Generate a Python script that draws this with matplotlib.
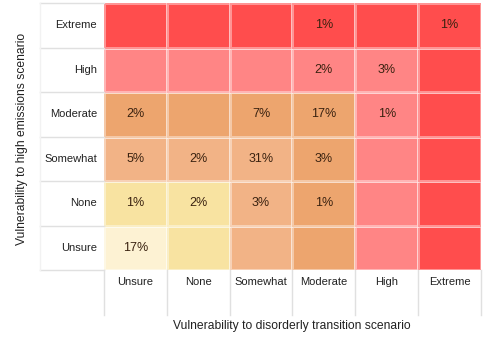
import numpy as np
import matplotlib
matplotlib.use('Agg')
import matplotlib.pyplot as plt
from matplotlib.colors import ListedColormap
from matplotlib.lines import Line2D

plt.rcParams['font.family'] = ['Liberation Sans', 'DejaVu Sans']

# ============================================================
# DATA
# ============================================================
categories = ["Unsure", "None", "Somewhat", "Moderate", "High", "Extreme"]
x_title = "Vulnerability to disorderly transition scenario"
y_title = "Vulnerability to high emissions scenario"

# share of respondents (%), rows = high emissions (Unsure..Extreme, bottom to top)
# columns = disorderly transition (Unsure..Extreme); None = empty cell
pct = [
    [17, None, None, None, None, None],   # Unsure
    [1, 2, 3, 1, None, None],             # None
    [5, 2, 31, 3, None, None],            # Somewhat
    [2, None, 7, 17, 1, None],            # Moderate
    [None, None, None, 2, 3, None],       # High
    [None, None, None, 1, None, 1],       # Extreme
]

# colour band of each cell (0 = unsure .. 5 = extreme)
band = [
    [0, 1, 2, 3, 4, 5],
    [1, 1, 2, 3, 4, 5],
    [2, 2, 2, 3, 4, 5],
    [3, 3, 3, 3, 4, 5],
    [4, 4, 4, 4, 4, 5],
    [5, 5, 5, 5, 5, 5],
]

band_colors = ['#FDF2D3', '#F8E3A1', '#F2B386', '#EDA56E', '#FF8585', '#FF4D4D']

# ============================================================
# PLOT
# ============================================================
W, H = 485, 354
fig = plt.figure(figsize=(W / 100, H / 100), dpi=100)

x0, x1, y0, y1 = 104, 481, 3, 270
ax = fig.add_axes([x0 / W, 1 - y1 / H, (x1 - x0) / W, (y1 - y0) / H])

n = len(categories)
ax.pcolormesh(np.arange(n + 1), np.arange(n + 1), np.array(band),
              cmap=ListedColormap(band_colors), vmin=-0.5, vmax=5.5,
              edgecolors=(1, 1, 1, 0.4), linewidth=0.8)
ax.set_xlim(0, n)
ax.set_ylim(0, n)
ax.axis('off')

for r in range(n):
    for c in range(n):
        v = pct[r][c]
        if v is not None:
            ax.text(c + 0.5, r + 0.5, f"{v}%", ha='center', va='center',
                    fontsize=9, color='#3A2210')

# row labels and column labels
for i, cat in enumerate(categories):
    ax.text(-0.11, i + 0.5, cat, ha='right', va='center', fontsize=8,
            color='#222222', clip_on=False)
    ax.text(i + 0.5, -0.15, cat, ha='center', va='top', fontsize=8,
            color='#222222', clip_on=False)

# light grid around label cells
grid_c = '#E0E0E0'
lab_left = (40 - x0) / (x1 - x0) * n
bot = -(315 - y1) / (y1 - y0) * n
for i in range(n + 1):
    ax.add_line(Line2D([lab_left, 0], [i, i], color=grid_c, lw=1, clip_on=False))
    ax.add_line(Line2D([i, i], [0, bot], color=grid_c, lw=1, clip_on=False))
ax.add_line(Line2D([lab_left, lab_left], [0, n], color='#F2F2F2', lw=1, clip_on=False))

fig.text(22 / W, 1 - 139 / H, y_title, rotation=90, ha='center', va='center',
         fontsize=8.7, color='#222222')
fig.text(292 / W, 1 - 326 / H, x_title, ha='center', va='center',
         fontsize=8.7, color='#222222')

fig.savefig('out.png', dpi=100)
